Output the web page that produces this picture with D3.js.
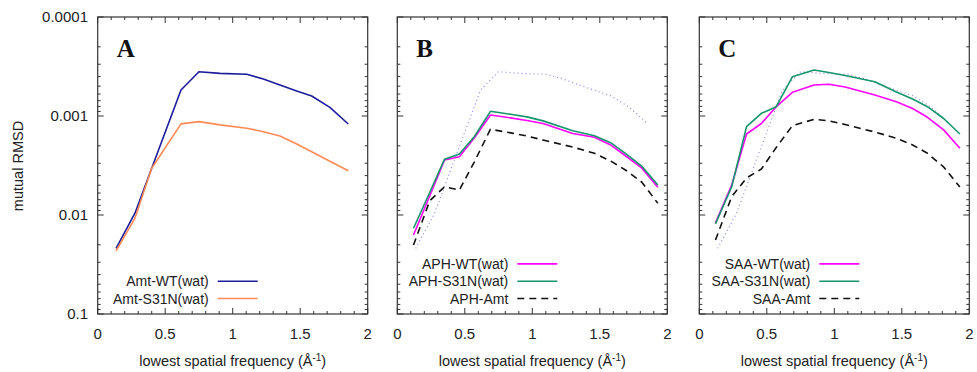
<!DOCTYPE html>
<html>
<head>
<meta charset="utf-8">
<script src="https://cdn.jsdelivr.net/npm/d3@7"></script>
<style>
  body { margin: 0; background: #fff; }
  text { font-family: "Liberation Sans", Arial, sans-serif; fill: #222; }
  text.letter { font-family: "Liberation Serif", "Times New Roman", serif; font-weight: bold; fill: #111; }
</style>
</head>
<body>
<svg id="chart" width="977" height="372"></svg>
<script>
const width = 977;
const height = 372;

// x grids (lowest spatial frequency, 1/Å)
const xAmt = [0.136, 0.276, 0.40, 0.617, 0.75, 0.906, 1.104, 1.227, 1.35, 1.474, 1.585, 1.72, 1.856];
const xRest = [0.12, 0.24, 0.35, 0.46, 0.57, 0.69, 0.85, 0.96, 1.08, 1.3, 1.46, 1.58, 1.69, 1.81, 1.93];

// panel A
const amtWT = [0.0217, 0.0096, 0.00337, 0.000546, 0.000357, 0.000371, 0.000379, 0.000423, 0.000487, 0.000558, 0.000628, 0.000817, 0.001205];
const amtS31N = [0.023, 0.0108, 0.00337, 0.0012, 0.00114, 0.00123, 0.00133, 0.00144, 0.00159, 0.00192, 0.0023, 0.00286, 0.00357];

// panel B
const aphWT = [0.0159, 0.00643, 0.00278, 0.00258, 0.00167, 0.000977, 0.00105, 0.00111, 0.00119, 0.0015, 0.00164, 0.00196, 0.00252, 0.00335, 0.00525];
const aphS31N = [0.0136, 0.00593, 0.00273, 0.00242, 0.00162, 0.000897, 0.000966, 0.00102, 0.00112, 0.00141, 0.00158, 0.00186, 0.00238, 0.0032, 0.00498];
const aphAmt = [0.0201, 0.0072, 0.00518, 0.00559, 0.00292, 0.00136, 0.00149, 0.00159, 0.00175, 0.00206, 0.00238, 0.00285, 0.00351, 0.00464, 0.00762];

// panel C
const saaWT = [0.012, 0.00498, 0.00152, 0.00119, 0.000805, 0.000576, 0.000486, 0.000478, 0.000509, 0.000613, 0.000718, 0.00084, 0.00103, 0.00138, 0.00212];
const saaS31N = [0.0123, 0.00518, 0.00128, 0.00094, 0.000805, 0.000401, 0.000343, 0.000364, 0.00039, 0.000451, 0.000572, 0.000673, 0.000805, 0.00106, 0.00152];
const saaAmt = [0.0179, 0.00653, 0.00423, 0.00343, 0.00208, 0.00125, 0.00108, 0.00112, 0.00122, 0.00145, 0.00168, 0.00196, 0.00238, 0.00327, 0.00521];

const xTicks = [0, 0.5, 1, 1.5, 2];
const yTicks = [0.0001, 0.001, 0.01, 0.1];

const blue = "#1c1c9c", orange = "#ff8a55", magenta = "#ff00ff", green = "#14966a", dotBlue = "#8a8af0";

const panels = [
  { label: "A", left: 97.7, series: [
      { name: "Amt-WT(wat)", x: xAmt, y: amtWT, color: blue, legend: true },
      { name: "Amt-S31N(wat)", x: xAmt, y: amtS31N, color: orange, legend: true }
  ]},
  { label: "B", left: 397.3, series: [
      { name: "Amt-WT(wat)", x: xAmt, y: amtWT, color: dotBlue, dash: "1,3", width: 1.2, legend: false },
      { name: "APH-WT(wat)", x: xRest, y: aphWT, color: magenta, legend: true },
      { name: "APH-S31N(wat)", x: xRest, y: aphS31N, color: green, legend: true },
      { name: "APH-Amt", x: xRest, y: aphAmt, color: "#111", dash: "7,5", legend: true }
  ]},
  { label: "C", left: 699.3, series: [
      { name: "Amt-WT(wat)", x: xAmt, y: amtWT, color: dotBlue, dash: "1,3", width: 1.2, legend: false },
      { name: "SAA-WT(wat)", x: xRest, y: saaWT, color: magenta, legend: true },
      { name: "SAA-S31N(wat)", x: xRest, y: saaS31N, color: green, legend: true },
      { name: "SAA-Amt", x: xRest, y: saaAmt, color: "#111", dash: "7,5", legend: true }
  ]}
];

const pw = 270, plotTop = 17, plotBottom = 314;

const svg = d3.select("#chart");

const y = d3.scaleLog().domain([1e-4, 1e-1]).range([plotTop, plotBottom]);

// minor log ticks 2..9 per decade
const yMinor = [];
for (let e = -4; e < -1; e++) for (let k = 2; k < 10; k++) yMinor.push(k * Math.pow(10, e));
const xMinor = d3.range(0, 2.001, 0.1).filter(v => Math.abs(v * 2 - Math.round(v * 2)) > 1e-6);

panels.forEach((p, pi) => {
  const x = d3.scaleLinear().domain([0, 2]).range([p.left, p.left + pw]);
  const g = svg.append("g");

  // ticks inside on all four sides
  const tk = g.append("g").attr("stroke", "#333").attr("stroke-width", 1);
  xTicks.forEach(v => {
    tk.append("line").attr("x1", x(v)).attr("x2", x(v)).attr("y1", plotBottom).attr("y2", plotBottom - 6);
    tk.append("line").attr("x1", x(v)).attr("x2", x(v)).attr("y1", plotTop).attr("y2", plotTop + 6);
  });
  xMinor.forEach(v => {
    tk.append("line").attr("x1", x(v)).attr("x2", x(v)).attr("y1", plotBottom).attr("y2", plotBottom - 3);
    tk.append("line").attr("x1", x(v)).attr("x2", x(v)).attr("y1", plotTop).attr("y2", plotTop + 3);
  });
  yTicks.forEach(v => {
    tk.append("line").attr("x1", p.left).attr("x2", p.left + 6).attr("y1", y(v)).attr("y2", y(v));
    tk.append("line").attr("x1", p.left + pw).attr("x2", p.left + pw - 6).attr("y1", y(v)).attr("y2", y(v));
  });
  yMinor.forEach(v => {
    tk.append("line").attr("x1", p.left).attr("x2", p.left + 3).attr("y1", y(v)).attr("y2", y(v));
    tk.append("line").attr("x1", p.left + pw).attr("x2", p.left + pw - 3).attr("y1", y(v)).attr("y2", y(v));
  });

  // frame
  g.append("rect")
    .attr("x", p.left).attr("y", plotTop).attr("width", pw).attr("height", plotBottom - plotTop)
    .attr("fill", "none").attr("stroke", "#333").attr("stroke-width", 1.2);

  // x tick labels
  g.selectAll(".xt").data(xTicks).join("text")
    .attr("x", d => x(d)).attr("y", 339)
    .attr("text-anchor", "middle").attr("font-size", 15)
    .text(d => d);

  // x axis label
  const xl = g.append("text")
    .attr("x", p.left + pw / 2).attr("y", 366)
    .attr("text-anchor", "middle").attr("font-size", 14.5);
  xl.append("tspan").text("lowest spatial frequency (Å");
  xl.append("tspan").attr("font-size", 10).attr("dy", -5).text("-1");
  xl.append("tspan").attr("dy", 5).text(")");

  // panel letter
  g.append("text")
    .attr("class", "letter")
    .attr("x", p.left + 19).attr("y", 57)
    .attr("font-size", 25)
    .text(p.label);

  // curves
  const line = d3.line().x(d => x(d[0])).y(d => y(d[1]));
  p.series.forEach(s => {
    g.append("path")
      .datum(s.x.map((v, i) => [v, s.y[i]]))
      .attr("d", line)
      .attr("fill", "none")
      .attr("stroke", s.color)
      .attr("stroke-width", s.width || 1.6)
      .attr("stroke-dasharray", s.dash || null)
      .attr("stroke-linejoin", "round");
  });

  // legend, anchored to bottom rows
  const leg = p.series.filter(s => s.legend);
  leg.forEach((s, i) => {
    const ry = 298.5 - (leg.length - 1 - i) * 17.3;
    g.append("text")
      .attr("x", p.left + 111).attr("y", ry + 5)
      .attr("text-anchor", "end").attr("font-size", 14)
      .text(s.name);
    g.append("line")
      .attr("x1", p.left + 120).attr("x2", p.left + 160)
      .attr("y1", ry).attr("y2", ry)
      .attr("stroke", s.color).attr("stroke-width", 1.6)
      .attr("stroke-dasharray", s.dash || null);
  });

  // y tick labels only on first panel
  if (pi === 0) {
    g.selectAll(".yt").data(yTicks).join("text")
      .attr("x", 88).attr("y", d => y(d) + 5)
      .attr("text-anchor", "end").attr("font-size", 15)
      .text(d => d === 0.0001 ? "0.0001" : d3.format("")(d));
  }
});

svg.append("text")
  .attr("transform", `translate(23,166) rotate(-90)`)
  .attr("text-anchor", "middle").attr("font-size", 14.5)
  .text("mutual RMSD");
</script>
</body>
</html>
